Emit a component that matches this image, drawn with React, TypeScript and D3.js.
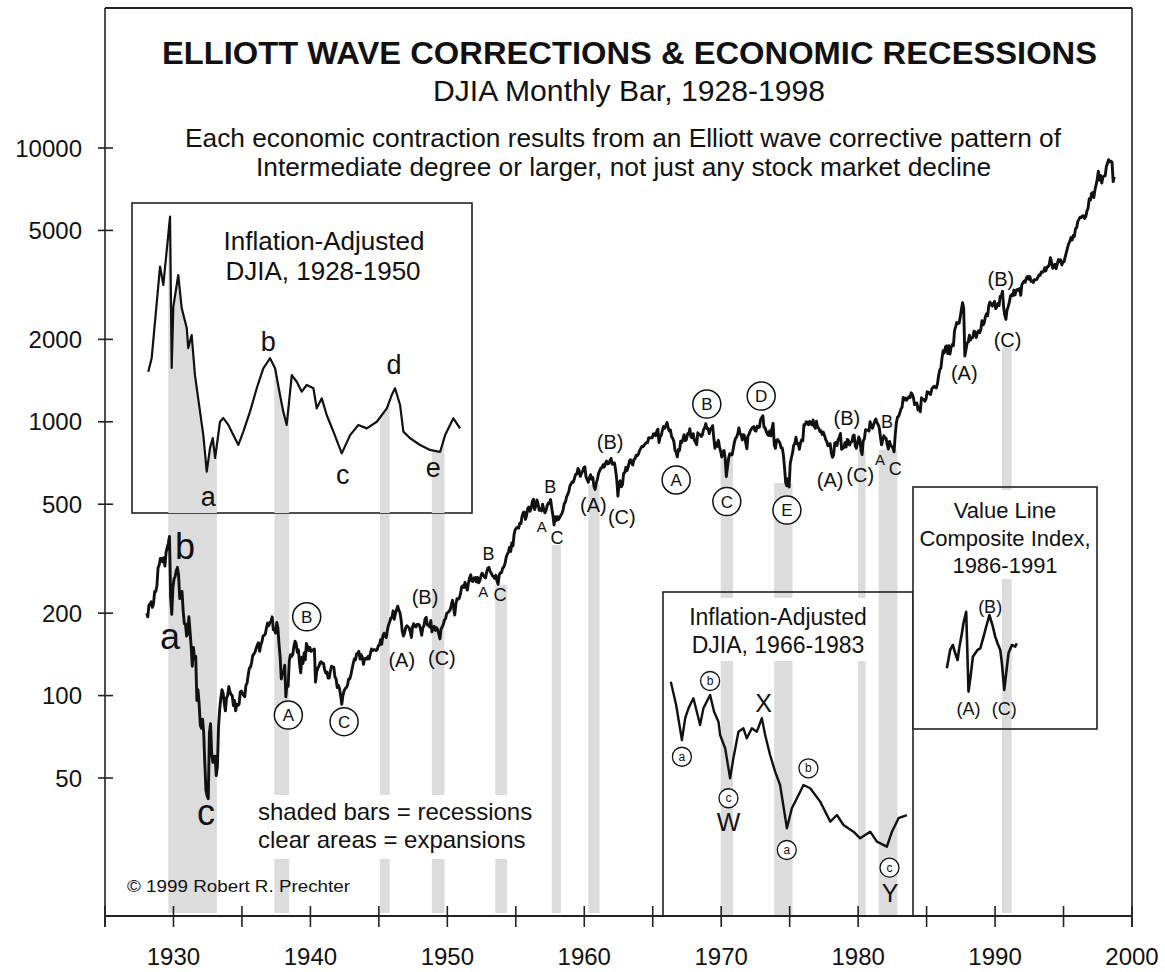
import React from "react";
import * as d3 from "d3";

// ---------- DATA ----------
// DJIA monthly levels (Jan..Dec)
const djia1920s = [
  200, 194, 214, 216, 220, 210, 216, 240, 240, 252, 293, 300,
  317, 317, 308, 319, 297, 333, 347, 360, 381, 230, 198, 248,
];
const djia1930s = [
  267, 272, 286, 294, 275, 226, 233, 240, 204, 183, 183, 165,
  168, 194, 172, 151, 128, 150, 136, 139, 96, 105, 93, 78,
  76, 82, 73, 56, 45, 43, 42, 73, 79, 61, 57, 60,
  60, 51, 55, 77, 89, 98, 105, 102, 94, 88, 98, 100,
  108, 103, 101, 100, 92, 96, 88, 93, 92, 93, 103, 104,
  102, 100, 99, 109, 111, 119, 126, 127, 132, 140, 142, 144,
  149, 153, 156, 145, 153, 157, 165, 166, 168, 177, 184, 180,
  185, 187, 194, 174, 175, 169, 185, 177, 154, 138, 115, 121,
  121, 129, 99, 111, 108, 134, 141, 139, 141, 151, 158, 155,
  144, 147, 131, 121, 138, 131, 143, 135, 155, 151, 146, 150,
];
const djia1940s = [
  145, 146, 147, 148, 112, 122, 126, 128, 132, 133, 131, 131,
  124, 121, 122, 116, 116, 123, 128, 127, 127, 117, 115, 107,
  109, 106, 100, 93, 100, 104, 106, 107, 109, 115, 115, 119,
  125, 131, 136, 135, 142, 143, 145, 136, 141, 138, 130, 136,
  137, 136, 139, 136, 142, 148, 146, 147, 147, 146, 147, 152,
  153, 160, 154, 165, 169, 165, 163, 174, 181, 186, 192, 193,
  204, 190, 199, 206, 212, 205, 201, 189, 172, 165, 169, 177,
  180, 178, 177, 171, 163, 178, 183, 179, 178, 182, 182, 181,
  175, 166, 177, 180, 191, 193, 181, 181, 178, 188, 171, 177,
  179, 173, 177, 174, 168, 161, 175, 178, 182, 189, 191, 200,
];
const djia1950s = [
  201, 203, 206, 214, 223, 209, 197, 216, 226, 225, 227, 235,
  249, 252, 248, 259, 250, 243, 257, 270, 276, 262, 261, 269,
  270, 260, 270, 258, 263, 274, 280, 275, 271, 269, 283, 292,
  294, 284, 280, 274, 272, 268, 275, 262, 255, 276, 281, 281,
  292, 295, 303, 319, 328, 334, 348, 336, 361, 352, 387, 404,
  409, 412, 409, 426, 425, 451, 466, 468, 440, 455, 483, 488,
  471, 484, 512, 521, 478, 493, 518, 502, 475, 480, 472, 500,
  479, 465, 475, 494, 505, 503, 520, 484, 456, 420, 450, 436,
  450, 440, 447, 456, 463, 478, 503, 509, 532, 543, 558, 584,
  594, 604, 602, 624, 644, 644, 675, 664, 632, 647, 659, 679,
];
const djia1960s = [
  685, 630, 616, 601, 625, 641, 617, 626, 580, 566, 597, 616,
  648, 662, 677, 679, 697, 684, 705, 719, 701, 704, 722, 735,
  700, 708, 707, 665, 613, 535, 597, 609, 579, 590, 649, 652,
  683, 663, 683, 718, 727, 707, 695, 729, 733, 755, 751, 763,
  785, 800, 813, 811, 821, 832, 841, 839, 875, 873, 875, 874,
  903, 904, 889, 922, 940, 840, 882, 893, 931, 961, 947, 969,
  995, 952, 925, 933, 884, 870, 847, 788, 774, 744, 792, 786,
  850, 839, 866, 897, 853, 860, 904, 901, 943, 880, 875, 905,
  856, 841, 825, 912, 899, 898, 883, 896, 936, 952, 985, 944,
  946, 905, 936, 950, 968, 873, 800, 837, 813, 856, 812, 780,
];
const djia1970s = [
  744, 778, 786, 736, 631, 684, 734, 765, 761, 756, 794, 839,
  869, 879, 904, 950, 908, 892, 858, 898, 887, 839, 797, 890,
  902, 928, 941, 954, 960, 929, 925, 964, 953, 956, 1018, 1036,
  1052, 955, 951, 921, 901, 892, 926, 888, 947, 987, 822, 800,
  856, 861, 847, 837, 802, 802, 757, 679, 600, 584, 619, 578,
  704, 739, 768, 821, 832, 879, 832, 835, 794, 836, 860, 852,
  975, 973, 1000, 997, 975, 1003, 985, 974, 1015, 965, 947, 1005,
  954, 948, 922, 927, 899, 916, 891, 862, 847, 818, 830, 831,
  770, 742, 757, 837, 841, 819, 862, 877, 907, 793, 799, 805,
  839, 809, 862, 855, 822, 842, 846, 888, 895, 816, 800, 839,
];
const djia1980s = [
  880, 863, 786, 759, 851, 868, 935, 933, 932, 925, 1000, 964,
  947, 975, 1004, 1024, 992, 977, 953, 882, 824, 853, 889, 875,
  871, 824, 795, 848, 820, 812, 800, 777, 896, 992, 1039, 1047,
  1076, 1113, 1130, 1226, 1200, 1222, 1199, 1216, 1233, 1225, 1276, 1259,
  1221, 1155, 1165, 1170, 1105, 1132, 1087, 1224, 1207, 1207, 1189, 1212,
  1287, 1284, 1267, 1258, 1315, 1336, 1348, 1334, 1329, 1374, 1472, 1547,
  1571, 1709, 1819, 1784, 1877, 1893, 1775, 1898, 1768, 1878, 1914, 1896,
  2158, 2224, 2305, 2286, 2292, 2419, 2572, 2722, 2596, 1739, 1834, 1939,
  1958, 2072, 1988, 2032, 2031, 2142, 2129, 2032, 2113, 2149, 2115, 2169,
  2342, 2259, 2294, 2419, 2480, 2440, 2661, 2737, 2693, 2645, 2706, 2753,
];
const djia1990s = [
  2591, 2628, 2707, 2657, 2877, 2881, 2999, 2614, 2453, 2365, 2560, 2634,
  2736, 2882, 2914, 2888, 3028, 2907, 3025, 3044, 3017, 3069, 2895, 3169,
  3223, 3268, 3236, 3359, 3397, 3319, 3394, 3257, 3272, 3226, 3305, 3301,
  3310, 3371, 3435, 3428, 3527, 3516, 3540, 3651, 3555, 3681, 3684, 3754,
  3978, 3832, 3636, 3682, 3758, 3625, 3765, 3913, 3843, 3908, 3739, 3834,
  3844, 4011, 4158, 4321, 4465, 4556, 4709, 4611, 4789, 4756, 5075, 5117,
  5395, 5486, 5588, 5569, 5643, 5655, 5529, 5616, 5882, 6029, 6522, 6448,
  6813, 6878, 6584, 7009, 7331, 7673, 8223, 7622, 7945, 7442, 7823, 7908,
  7907, 8546, 8800, 9063, 8900, 8952, 8883, 7539, 7843,
];
const djiaStartYear = 1928;

// Recessions [start, end] and the price level where each shaded bar begins
const recessions: [number, number][] = [
  [1929.62, 1933.17], [1937.37, 1938.45], [1945.08, 1945.79], [1948.87, 1949.79],
  [1953.5, 1954.37], [1957.62, 1958.29], [1960.29, 1961.12], [1969.96, 1970.87],
  [1973.87, 1975.21], [1980.0, 1980.54], [1981.5, 1982.87], [1990.5, 1991.21],
];
const recessionTops = [470, 470, 470, 470, 254, 355, 588, 744, 597, 789, 789, 1876];

// Inflation-adjusted DJIA 1928-1950 (inset units)
const realDjia1928: [number, number][] = [
  [1928.16, 1330], [1928.41, 1505], [1929.02, 3432], [1929.26, 2909], [1929.75, 5390],
  [1929.87, 1375], [1929.99, 2391], [1930.35, 3183], [1930.6, 2363], [1930.97, 1973],
  [1931.08, 1646], [1931.33, 1851], [1931.57, 1290], [1931.94, 927], [1932.18, 750],
  [1932.43, 539], [1932.67, 668], [1932.87, 730], [1933.04, 610], [1933.4, 846],
  [1933.64, 875], [1934.01, 822], [1934.37, 750], [1934.74, 686], [1935.1, 774],
  [1935.59, 927], [1936.08, 1145], [1936.56, 1371], [1937.05, 1501], [1937.42, 1371],
  [1937.78, 1077], [1938.02, 927], [1938.27, 822], [1938.64, 1290], [1939.0, 1214],
  [1939.37, 1110], [1939.73, 1179], [1940.22, 1145], [1940.46, 955], [1940.83, 1045],
  [1941.19, 899], [1941.68, 774], [1942.29, 636], [1942.9, 750], [1943.5, 822],
  [1944.12, 797], [1944.85, 846], [1945.58, 955], [1945.94, 1077], [1946.18, 1145],
  [1946.55, 984], [1946.79, 774], [1947.28, 729], [1948.01, 686], [1948.74, 656],
  [1949.47, 644], [1949.84, 750], [1950.44, 873], [1950.93, 797],
];

// Inflation-adjusted DJIA 1966-1983 (inset units)
const realDjia1966: [number, number][] = [
  [1966.32, 4933], [1966.71, 4101], [1966.95, 3500], [1967.13, 3108], [1967.37, 3693],
  [1967.61, 3995], [1967.97, 4325], [1968.22, 3890], [1968.46, 3500], [1968.7, 3995],
  [1969.19, 4440], [1969.48, 3890], [1969.8, 3594], [1969.92, 3234], [1970.29, 2911],
  [1970.65, 2294], [1970.89, 2689], [1971.26, 3320], [1971.62, 3410], [1971.87, 3150],
  [1972.24, 3410], [1972.6, 3320], [1972.97, 3693], [1973.21, 3234], [1973.57, 2760],
  [1973.94, 2418], [1974.3, 2176], [1974.8, 1544], [1975.16, 1810], [1975.53, 1959],
  [1976.01, 2176], [1976.5, 2120], [1977.23, 1907], [1977.97, 1627], [1978.45, 1715],
  [1978.93, 1585], [1979.66, 1503], [1980.15, 1426], [1980.88, 1503], [1981.37, 1389],
  [1982.1, 1335], [1982.47, 1503], [1982.95, 1672], [1983.56, 1715],
];

// Value Line Composite Index 1986-1991
const valueLine: [number, number][] = [
  [1986.48, 208.5], [1986.72, 230.7], [1986.92, 237.1], [1987.09, 226.5], [1987.26, 218.3],
  [1987.4, 235.0], [1987.58, 252.9], [1987.69, 267.3], [1987.89, 285], [1988.06, 183.3],
  [1988.24, 202.8], [1988.38, 222.3], [1988.55, 226.5], [1988.72, 230.7], [1988.92, 232.8],
  [1989.16, 248.3], [1989.35, 262.3], [1989.59, 279.8], [1989.84, 262.3], [1990.01, 248.3],
  [1990.18, 239.4], [1990.38, 230.7], [1990.5, 214.3], [1990.67, 185.0], [1990.81, 202.8],
  [1990.98, 226.5], [1991.23, 237.1], [1991.47, 235.0], [1991.59, 239.4],
];

const yTickValues = [50, 100, 200, 500, 1000, 2000, 5000, 10000];
const xTickYears = [1925, 1930, 1935, 1940, 1945, 1950, 1955, 1960, 1965, 1970, 1975, 1980, 1985, 1990, 1995, 2000];
const xLabelYears = [1930, 1940, 1950, 1960, 1970, 1980, 1990, 2000];

// Wave labels on the main chart: [text, year, price, kind]
const mainLabels: [string, number, number, string][] = [
  ["a", 1929.75, 163.7, "big"], ["b", 1930.84, 349, "big"], ["c", 1932.38, 37.3, "big"],
  ["B", 1939.73, 194, "circle"], ["A", 1938.39, 84.9, "circle"], ["C", 1942.46, 80.3, "circle"],
  ["(A)", 1946.67, 134.9, "paren"], ["(B)", 1948.37, 229.7, "paren"], ["(C)", 1949.6, 136.8, "paren"],
  ["B", 1953.0, 329, "letter"], ["A", 1952.63, 239.5, "small"], ["C", 1953.85, 232.9, "letter"],
  ["B", 1957.51, 579, "letter"], ["A", 1956.9, 416, "small"], ["C", 1958.0, 376.5, "letter"],
  ["(A)", 1960.67, 497, "paren"], ["(B)", 1961.89, 846, "paren"], ["(C)", 1962.74, 450, "paren"],
  ["A", 1966.71, 613, "circle"], ["B", 1968.95, 1161, "circle"], ["C", 1970.41, 511, "circle"],
  ["D", 1972.92, 1242, "circle"], ["E", 1974.8, 476, "circle"],
  ["(A)", 1977.96, 613, "paren"], ["(B)", 1979.18, 1030, "paren"], ["(C)", 1980.15, 639, "paren"],
  ["B", 1982.1, 1000, "letter"], ["A", 1981.6, 731, "small"], ["C", 1982.71, 672, "letter"],
  ["(A)", 1987.75, 1504, "paren"], ["(B)", 1990.43, 3315, "paren"], ["(C)", 1990.91, 1990, "paren"],
];
const inset1Labels: [string, number, number][] = [
  ["b", 1936.93, 1743], ["a", 1932.55, 429], ["c", 1942.36, 523], ["d", 1946.11, 1412], ["e", 1948.98, 556],
];
const inset2Labels: [string, number, number, string][] = [
  ["b", 1969.19, 4960, "mini"], ["a", 1967.13, 2722, "mini"], ["X", 1973.09, 4156, "cap"],
  ["c", 1970.53, 1959, "mini"], ["W", 1970.53, 1627, "cap"], ["b", 1976.37, 2484, "mini"],
  ["a", 1974.79, 1300, "mini"], ["c", 1982.29, 1130, "mini"], ["Y", 1982.34, 922, "cap"],
];
const inset3Labels: [string, number, number][] = [
  ["(B)", 1989.64, 293], ["(A)", 1988.06, 166.2], ["(C)", 1990.67, 166.2],
];

// ---------- CHART ----------
const FONT = "'Liberation Sans', Arial, Helvetica, sans-serif";
const GRAY = "#dcdcdc";
const INK = "#111";

export default function App() {
  const x = d3.scaleLinear().domain([1925, 2000]).range([105, 1132]);
  const y = d3.scaleLog().domain([50, 10000]).range([778, 148]);
  const yI1 = d3.scaleLog().domain([500, 5000]).range([480, 225]);
  const yI2 = d3.scaleLog().domain([1000, 5000]).range([883.1, 680]);
  const yI3 = d3.scaleLog().domain([200, 285]).range([675.8, 611.7]);

  const plot = { left: x(1925), right: x(2000), top: 8, bottom: 916 };
  const box1 = { x0: 132, y0: 203, x1: 472, y1: 513 };
  const box2 = { x0: 663, y0: 592, x1: 913, y1: plot.bottom };
  const box3 = { x0: 913, y0: 487, x1: 1097, y1: 729 };

  const monthly = [...djia1920s, ...djia1930s, ...djia1940s, ...djia1950s, ...djia1960s, ...djia1970s, ...djia1980s, ...djia1990s];
  const djia: [number, number][] = monthly.map((v, i) => [djiaStartYear + (i + 0.5) / 12, v]);

  const mainLine = d3.line<[number, number]>().x((d) => x(d[0])).y((d) => y(d[1]))(djia) || "";
  const line1 = d3.line<[number, number]>().x((d) => x(d[0])).y((d) => yI1(d[1]))(realDjia1928) || "";
  const area1 = d3.area<[number, number]>().x((d) => x(d[0])).y0(box1.y1).y1((d) => yI1(d[1]))(realDjia1928) || "";
  const line2 = d3.line<[number, number]>().x((d) => x(d[0])).y((d) => yI2(d[1]))(realDjia1966) || "";
  const line3 = d3.line<[number, number]>().x((d) => x(d[0])).y((d) => yI3(d[1]))(valueLine) || "";

  const renderMainLabel = (l: [string, number, number, string], i: number) => {
    const [t, yr, v, kind] = l;
    const cx = x(yr);
    const cy = y(v);
    if (kind === "circle") {
      return (
        <g key={"ml" + i}>
          <circle cx={cx} cy={cy} r={14} fill="#fff" stroke={INK} strokeWidth={1.5} />
          <text x={cx} y={cy + 6} fontSize={17} textAnchor="middle" fill={INK}>{t}</text>
        </g>
      );
    }
    const size = kind === "big" ? 36 : kind === "paren" ? 20 : kind === "small" ? 15 : 18;
    return (
      <text key={"ml" + i} x={cx} y={cy} fontSize={size} textAnchor="middle" dominantBaseline="central" fill={INK}>{t}</text>
    );
  };

  return (
    <svg width={1165} height={972} style={{ position: "absolute", left: 0, top: 0, background: "#fff" }} fontFamily={FONT}>
      <defs>
        <clipPath id="clip1">
          {recessions.filter((r) => r[0] < 1951).map((r, i) => (
            <rect key={i} x={x(r[0])} y={box1.y0} width={x(r[1]) - x(r[0])} height={box1.y1 - box1.y0} />
          ))}
        </clipPath>
        <clipPath id="clipBox2"><rect x={box2.x0} y={box2.y0} width={box2.x1 - box2.x0} height={box2.y1 - box2.y0} /></clipPath>
        <clipPath id="clipBox3"><rect x={box3.x0} y={box3.y0} width={box3.x1 - box3.x0} height={box3.y1 - box3.y0} /></clipPath>
      </defs>
      <rect x={0} y={0} width={1165} height={972} fill="#fff" />

      {/* recession bars, main panel */}
      {recessions.map((r, i) => (
        <rect key={"rb" + i} x={x(r[0])} y={y(recessionTops[i])} width={x(r[1]) - x(r[0])}
          height={plot.bottom - 3 - y(recessionTops[i])} fill={GRAY} />
      ))}

      {/* legend block */}
      <rect x={250} y={795} width={290} height={64} fill="#fff" />
      <text x={258} y={820} fontSize={24} fill={INK}>shaded bars = recessions</text>
      <text x={258} y={848} fontSize={24} fill={INK}>clear areas = expansions</text>
      <text x={127} y={892} fontSize={17} fill={INK} textLength={223} lengthAdjust="spacingAndGlyphs">© 1999 Robert R. Prechter</text>

      {/* DJIA */}
      <path d={mainLine} fill="none" stroke={INK} strokeWidth={2.9} strokeLinejoin="round" />

      {/* inset 1 */}
      <rect x={box1.x0} y={box1.y0} width={box1.x1 - box1.x0} height={box1.y1 - box1.y0} fill="#fff" stroke="#222" strokeWidth={1.6} />
      <path d={area1} fill={GRAY} clipPath="url(#clip1)" />
      <path d={line1} fill="none" stroke={INK} strokeWidth={2.2} strokeLinejoin="round" />
      <text x={324} y={250} fontSize={26} textAnchor="middle" fill={INK}>Inflation-Adjusted</text>
      <text x={323} y={280} fontSize={26} textAnchor="middle" fill={INK}>DJIA, 1928-1950</text>
      {inset1Labels.map((l, i) => (
        <text key={"i1" + i} x={x(l[1])} y={yI1(l[2])} fontSize={27} textAnchor="middle" dominantBaseline="central" fill={INK}>{l[0]}</text>
      ))}

      {/* inset 2 */}
      <rect x={box2.x0} y={box2.y0} width={box2.x1 - box2.x0} height={box2.y1 - box2.y0} fill="#fff" />
      <g clipPath="url(#clipBox2)">
        {recessions.map((r, i) => (
          <rect key={"r2" + i} x={x(r[0])} y={box2.y0} width={x(r[1]) - x(r[0])} height={box2.y1 - box2.y0} fill={GRAY} />
        ))}
      </g>
      <rect x={684} y={598} width={190} height={63} fill="#fff" />
      <rect x={box2.x0} y={box2.y0} width={box2.x1 - box2.x0} height={box2.y1 - box2.y0} fill="none" stroke="#222" strokeWidth={1.6} />
      <text x={778} y={625} fontSize={23} textAnchor="middle" fill={INK}>Inflation-Adjusted</text>
      <text x={778} y={653} fontSize={23} textAnchor="middle" fill={INK}>DJIA, 1966-1983</text>
      <path d={line2} fill="none" stroke={INK} strokeWidth={2.4} strokeLinejoin="round" />
      {inset2Labels.map((l, i) => {
        const cx = x(l[1]);
        const cy = yI2(l[2]);
        if (l[3] === "mini") {
          return (
            <g key={"i2" + i}>
              <circle cx={cx} cy={cy} r={9.5} fill="#fff" stroke={INK} strokeWidth={1.3} />
              <text x={cx} y={cy + 4} fontSize={12} textAnchor="middle" fill={INK}>{l[0]}</text>
            </g>
          );
        }
        return <text key={"i2" + i} x={cx} y={cy} fontSize={25} textAnchor="middle" dominantBaseline="central" fill={INK}>{l[0]}</text>;
      })}

      {/* inset 3 */}
      <rect x={box3.x0} y={box3.y0} width={box3.x1 - box3.x0} height={box3.y1 - box3.y0} fill="#fff" />
      <g clipPath="url(#clipBox3)">
        {recessions.map((r, i) => (
          <rect key={"r3" + i} x={x(r[0])} y={box3.y0} width={x(r[1]) - x(r[0])} height={box3.y1 - box3.y0} fill={GRAY} />
        ))}
      </g>
      <rect x={916} y={490} width={178} height={89} fill="#fff" />
      <rect x={box3.x0} y={box3.y0} width={box3.x1 - box3.x0} height={box3.y1 - box3.y0} fill="none" stroke="#222" strokeWidth={1.6} />
      <text x={1005} y={518} fontSize={22} textAnchor="middle" fill={INK}>Value Line</text>
      <text x={1005} y={546} fontSize={22} textAnchor="middle" fill={INK}>Composite Index,</text>
      <text x={1005} y={573} fontSize={22} textAnchor="middle" fill={INK}>1986-1991</text>
      <path d={line3} fill="none" stroke={INK} strokeWidth={2.6} strokeLinejoin="round" />
      {inset3Labels.map((l, i) => (
        <text key={"i3" + i} x={x(l[1])} y={yI3(l[2])} fontSize={18} textAnchor="middle" dominantBaseline="central" fill={INK}>{l[0]}</text>
      ))}

      {/* main labels */}
      {mainLabels.map(renderMainLabel)}

      {/* frame and axes */}
      <line x1={plot.left} y1={plot.top} x2={plot.right} y2={plot.top} stroke="#222" strokeWidth={1.8} />
      <line x1={plot.right} y1={plot.top} x2={plot.right} y2={plot.bottom + 11} stroke="#222" strokeWidth={1.6} />
      <line x1={plot.left} y1={plot.top} x2={plot.left} y2={plot.bottom + 11} stroke="#222" strokeWidth={1.6} />
      <line x1={plot.left} y1={plot.bottom} x2={plot.right} y2={plot.bottom} stroke="#222" strokeWidth={2} />
      {yTickValues.map((v) => (
        <g key={"yt" + v}>
          <line x1={plot.left - 7} x2={plot.left + 8} y1={y(v)} y2={y(v)} stroke="#222" strokeWidth={1.6} />
          <text x={82} y={y(v) + 8.5} fontSize={24} textAnchor="end" fill={INK}>{v}</text>
        </g>
      ))}
      {xTickYears.map((t) => (
        <line key={"xt" + t} x1={x(t)} x2={x(t)} y1={plot.bottom - 10} y2={plot.bottom + 11} stroke="#222" strokeWidth={1.6} />
      ))}
      {xLabelYears.map((t) => (
        <text key={"xl" + t} x={x(t)} y={965} fontSize={24} textAnchor="middle" fill={INK}>{t}</text>
      ))}

      {/* titles */}
      <text x={629.5} y={64} fontSize={32} fontWeight="bold" textAnchor="middle" fill={INK} textLength={935} lengthAdjust="spacingAndGlyphs">ELLIOTT WAVE CORRECTIONS &amp; ECONOMIC RECESSIONS</text>
      <text x={629} y={101} fontSize={29} textAnchor="middle" fill={INK} textLength={392} lengthAdjust="spacingAndGlyphs">DJIA Monthly Bar, 1928-1998</text>
      <text x={623} y={147} fontSize={26} textAnchor="middle" fill={INK} textLength={876} lengthAdjust="spacingAndGlyphs">Each economic contraction results from an Elliott wave corrective pattern of</text>
      <text x={623.5} y={176} fontSize={26} textAnchor="middle" fill={INK} textLength={735} lengthAdjust="spacingAndGlyphs">Intermediate degree or larger, not just any stock market decline</text>
    </svg>
  );
}
